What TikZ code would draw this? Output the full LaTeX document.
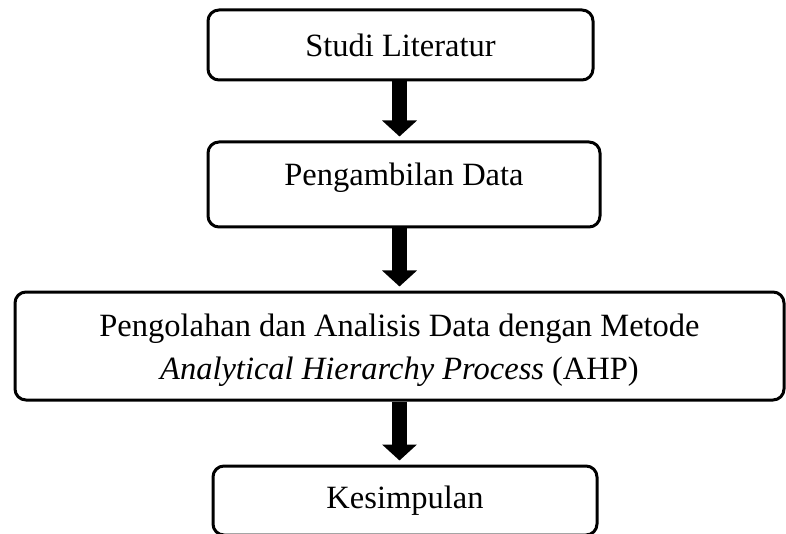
\documentclass[tikz,border=0pt]{standalone}
\usepackage{fontspec}
\setmainfont{Liberation Serif}
\usetikzlibrary{arrows.meta}
\begin{document}
\begin{tikzpicture}[x=1pt,y=-1pt,
  txt/.style={font=\fontsize{32.5}{43}\selectfont},
  box/.style={draw=black, line width=3pt, rounded corners=11pt, align=center,
    txt, inner sep=0pt},
  flow/.style={line width=15pt, -{Triangle[width=34pt,length=16pt]}, shorten >=4pt}]
\useasboundingbox[fill=white] (0,0) rectangle (786,534);
\node[box, minimum width=385pt, minimum height=70pt] (b1) at (400.5,45) {Studi Literatur};
\node[box, minimum width=392pt, minimum height=85pt,
  label={[txt, yshift=7pt]center:Pengambilan Data}] (b2) at (404,184.5) {};
\node[box, minimum width=769pt, minimum height=108pt,
  label={[txt, align=center, yshift=-4pt]center:Pengolahan dan Analisis Data dengan Metode\\\textit{Analytical Hierarchy Process} (AHP)}] (b3) at (399.5,346) {};
\node[box, minimum width=384pt, minimum height=69pt] (b4) at (405,500.5) {Kesimpulan};
\draw[flow] (b1.south -| b3.center) -- (b2.north -| b3.center);
\draw[flow] (b2.south -| b3.center) -- (b3.north);
\draw[flow] (b3.south) -- (b4.north -| b3.center);
\end{tikzpicture}
\end{document}
